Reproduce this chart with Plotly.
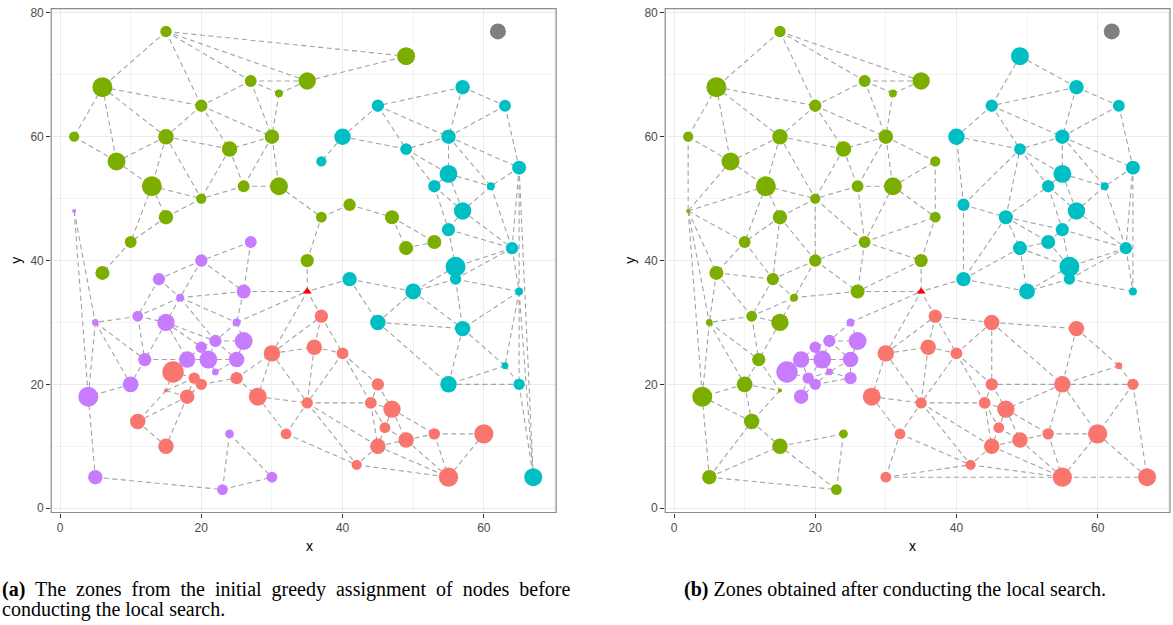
import numpy as np
import plotly.graph_objects as go

# ---------------------------------------------------------------- nodes
node_x = [15, 6, 27, 31, 35, 49, 20, 2, 15, 30, 24, 8, 13, 26, 31, 20, 15, 10, 2, 27,
          20, 35, 37, 41, 47, 49, 53, 6,
          57, 45, 63, 40, 55, 37, 49, 65, 55, 53, 61, 57, 55, 64, 56, 56, 41, 50, 65,
          45, 57, 63, 55, 65, 67,
          14, 26, 17, 11, 5, 15, 25, 22, 20, 26, 12, 18, 21, 25, 22, 10, 4, 24, 5, 23, 30,
          16, 19, 20, 15, 18, 25, 11, 15, 30, 28, 32, 37, 36, 40, 35, 45, 44, 47, 46, 45,
          49, 53, 60, 42, 55]
node_y = [77, 68, 69, 67, 69, 73, 65, 60, 60, 60, 58, 56, 52, 52, 52, 50, 47, 43, 48, 43,
          40, 40, 47, 49, 47, 42, 43, 38,
          68, 65, 65, 60, 60, 56, 58, 55, 54, 52, 52, 48, 45, 42, 39, 37, 37, 35, 35,
          30, 29, 23, 20, 20, 5,
          37, 35, 34, 31, 30, 30, 30, 27, 26, 27, 24, 24, 24, 24, 22, 20, 18, 12, 5, 3, 5,
          22, 21, 20, 19, 18, 21, 14, 10, 25, 18, 12, 31, 26, 25, 17, 20, 17, 16, 13, 10,
          11, 12, 12, 7, 5]
demand = [8, 34, 9, 3, 24, 26, 10, 6, 18, 15, 18, 26, 34, 9, 26, 6, 15, 9, 1, 9,
          10, 12, 7, 10, 14, 14, 14, 14,
          15, 10, 9, 21, 15, 6, 9, 14, 26, 10, 3, 24, 12, 10, 34, 8, 15, 19, 3,
          18, 18, 2, 21, 8, 26,
          10, 14, 3, 7, 2, 24, 3, 10, 8, 26, 12, 21, 26, 18, 2, 19, 34, 4, 15, 7, 7,
          40, 8, 8, 1, 15, 10, 18, 18, 21, 26, 7, 12, 18, 9, 8, 10, 9, 24, 7, 18,
          18, 8, 31, 6, 31]

# zone of every node: greedy start and after local search
zone_initial = (["G"] * 18 + ["P", "P", "P", "G", "G", "G", "G", "G", "G", "G"]
                + ["C"] * 25
                + ["P"] * 21
                + ["R"] * 25)
zone_final = (["G"] * 5 + ["C"] + ["G"] * 12 + ["G", "G", "G", "G", "G", "C", "C", "C", "C", "G"]
              + ["C"] * 5 + ["G"] + ["C"] * 13 + ["R"] * 6
              + ["G"] * 6 + ["P"] * 4 + ["G"] + ["P"] * 4 + ["G"] * 5 + ["R"]
              + ["P", "P", "P", "G", "P", "P", "G", "G"] + ["R"] * 17)

hub_x, hub_y = [35], [35]
depot_x, depot_y = [62], [77]

ZONE_COLORS = {"R": "#F8766D", "G": "#7CAE00", "C": "#00BFC4", "P": "#C77CFF"}
EDGE_COLOR = "#a3a3a3"

x_ticks = [0, 20, 40, 60]
y_ticks = [0, 20, 40, 60, 80]

NB = "\u00a0"
caption_a1 = ["<b>(a)</b>", "The", "zones", "from", "the", "initial", "greedy",
              "assignment", "of", "nodes", "before"]
caption_a2 = "conducting the local search."
caption_b = "<b>(b)</b> Zones obtained after conducting the local search."


# ---------------------------------------------------------------- road graph (Delaunay)
def delaunay_edges(xs, ys):
    pts = [(float(a), float(b)) for a, b in zip(xs, ys)]
    n = len(pts)
    big = 1.0e5
    pts += [(-big, -big), (big, -big), (0.0, big)]
    tris = [(n, n + 1, n + 2)]

    def ccw(t):
        a, b, c = t
        (ax, ay), (bx, by), (cx, cy) = pts[a], pts[b], pts[c]
        if (bx - ax) * (cy - ay) - (by - ay) * (cx - ax) < 0:
            return (a, c, b)
        return t

    def in_circle(t, p):
        a, b, c = t
        ax, ay = pts[a][0] - p[0], pts[a][1] - p[1]
        bx, by = pts[b][0] - p[0], pts[b][1] - p[1]
        cx, cy = pts[c][0] - p[0], pts[c][1] - p[1]
        det = ((ax * ax + ay * ay) * (bx * cy - cx * by)
               - (bx * bx + by * by) * (ax * cy - cx * ay)
               + (cx * cx + cy * cy) * (ax * by - bx * ay))
        return det > 1e-9

    tris = [ccw(t) for t in tris]
    for i in range(n):
        p = pts[i]
        bad = [t for t in tris if in_circle(t, p)]
        count = {}
        for t in bad:
            for e in ((t[0], t[1]), (t[1], t[2]), (t[2], t[0])):
                k = tuple(sorted(e))
                count[k] = count.get(k, 0) + 1
        bset = set(bad)
        tris = [t for t in tris if t not in bset]
        for (a, b), c in count.items():
            if c == 1:
                tris.append(ccw((a, b, i)))
    edges = set()
    for t in tris:
        if max(t) >= n:
            continue
        for a, b in ((t[0], t[1]), (t[1], t[2]), (t[2], t[0])):
            edges.add(tuple(sorted((a, b))))
    return sorted(edges)


# triangulate customers + hub + depot; depot links are not drawn
all_x = node_x + hub_x + depot_x
all_y = node_y + hub_y + depot_y
HUB = len(node_x)
DEPOT = HUB + 1
graph_edges = delaunay_edges(all_x, all_y)


def edge_trace(zones, xa, ya):
    ex, ey = [], []
    for a, b in graph_edges:
        if DEPOT in (a, b):
            continue
        if a == HUB or b == HUB or zones[a] == zones[b]:
            ex += [all_x[a], all_x[b], None]
            ey += [all_y[a], all_y[b], None]
    return go.Scatter(x=ex, y=ey, mode="lines", xaxis=xa, yaxis=ya, hoverinfo="skip",
                      line=dict(color=EDGE_COLOR, width=1.1, dash="5px,3.5px"),
                      showlegend=False)


def marker_diam(d):
    d = np.asarray(d, dtype=float)
    r = 2.0 + 8.7 * np.sqrt((d - 1.0) / 39.0)
    return 2 * r


fig = go.Figure()
for zones, xa, ya in ((zone_initial, "x", "y"), (zone_final, "x2", "y2")):
    fig.add_trace(edge_trace(zones, xa, ya))
    for z in ["R", "G", "C", "P"]:
        idx = [i for i, zz in enumerate(zones) if zz == z]
        fig.add_trace(go.Scatter(
            x=[node_x[i] for i in idx], y=[node_y[i] for i in idx], mode="markers",
            xaxis=xa, yaxis=ya, showlegend=False,
            marker=dict(color=ZONE_COLORS[z], size=marker_diam([demand[i] for i in idx]),
                        line=dict(width=0), opacity=1)))
    fig.add_trace(go.Scatter(x=hub_x, y=hub_y, mode="markers", xaxis=xa, yaxis=ya,
                             showlegend=False,
                             marker=dict(symbol="triangle-up", color="#FF0000", size=8,
                                         line=dict(width=0))))
    fig.add_trace(go.Scatter(x=depot_x, y=depot_y, mode="markers", xaxis=xa, yaxis=ya,
                             showlegend=False,
                             marker=dict(color="#7F7F7F", size=16, line=dict(width=0))))

W, H = 1173, 625
dom_y = [1 - 514.6 / H, 1 - 6.6 / H]
dom_x1 = [51.2 / W, 556.2 / W]
dom_x2 = [665.2 / W, 1170.0 / W]

axis_common = dict(
    showgrid=True, gridcolor="#EBEBEB", gridwidth=1,
    zeroline=False, ticks="outside", ticklen=4, tickwidth=1, tickcolor="#333333",
    tickfont=dict(family="Liberation Sans, Arial", size=12, color="#4D4D4D"),
    minor=dict(showgrid=True, gridcolor="#F3F3F3", gridwidth=0.6, dtick=10),
    fixedrange=True,
)
fig.update_layout(
    width=W, height=H, margin=dict(l=0, r=0, t=0, b=0),
    paper_bgcolor="white", plot_bgcolor="white", showlegend=False,
    xaxis=dict(domain=dom_x1, range=[-1.25, 70.25], tickvals=x_ticks, anchor="y",
               showline=True, linecolor="#1a1a1a", linewidth=1.2, **axis_common),
    yaxis=dict(domain=dom_y, range=[-0.7, 80.7], tickvals=y_ticks, anchor="x",
               showline=False, **axis_common),
    xaxis2=dict(domain=dom_x2, range=[-1.25, 70.25], tickvals=x_ticks, anchor="y2",
                showline=True, linecolor="#1a1a1a", linewidth=1.2, **axis_common),
    yaxis2=dict(domain=dom_y, range=[-0.7, 80.7], tickvals=y_ticks, anchor="x2",
                showline=False, **axis_common),
)

# panel borders
for xr, yr in (("x domain", "y domain"), ("x2 domain", "y2 domain")):
    fig.add_shape(type="rect", xref=xr, yref=yr, x0=0, x1=1, y0=0, y1=1,
                  line=dict(color="#8a8a8a", width=1.2), layer="above")

# axis titles
title_font = dict(family="Liberation Sans, Arial", size=14, color="black")
for d in (dom_x1, dom_x2):
    fig.add_annotation(x=(d[0] + d[1]) / 2, y=1 - 548 / H, xref="paper", yref="paper",
                       text="x", showarrow=False, font=title_font, yanchor="middle")
    fig.add_annotation(x=d[0] - 36 / W, y=(dom_y[0] + dom_y[1]) / 2, xref="paper",
                       yref="paper", text="y", textangle=-90, showarrow=False,
                       font=title_font, xanchor="center")

# sub-figure captions (first line of (a) spread out like justified text)
cap_font = dict(family="Liberation Serif, Times New Roman, serif", size=20, color="black")
fig.add_annotation(x=0, y=1 - 592 / H, xref="paper", yref="paper",
                   text=(NB + " ").join(caption_a1),
                   showarrow=False, xanchor="left", yanchor="middle", font=cap_font)
fig.add_annotation(x=0, y=1 - 612 / H, xref="paper", yref="paper", text=caption_a2,
                   showarrow=False, xanchor="left", yanchor="middle", font=cap_font)
fig.add_annotation(x=895 / W, y=1 - 592 / H, xref="paper", yref="paper", text=caption_b,
                   showarrow=False, xanchor="center", yanchor="middle", font=cap_font)

fig.write_html("out.html")
